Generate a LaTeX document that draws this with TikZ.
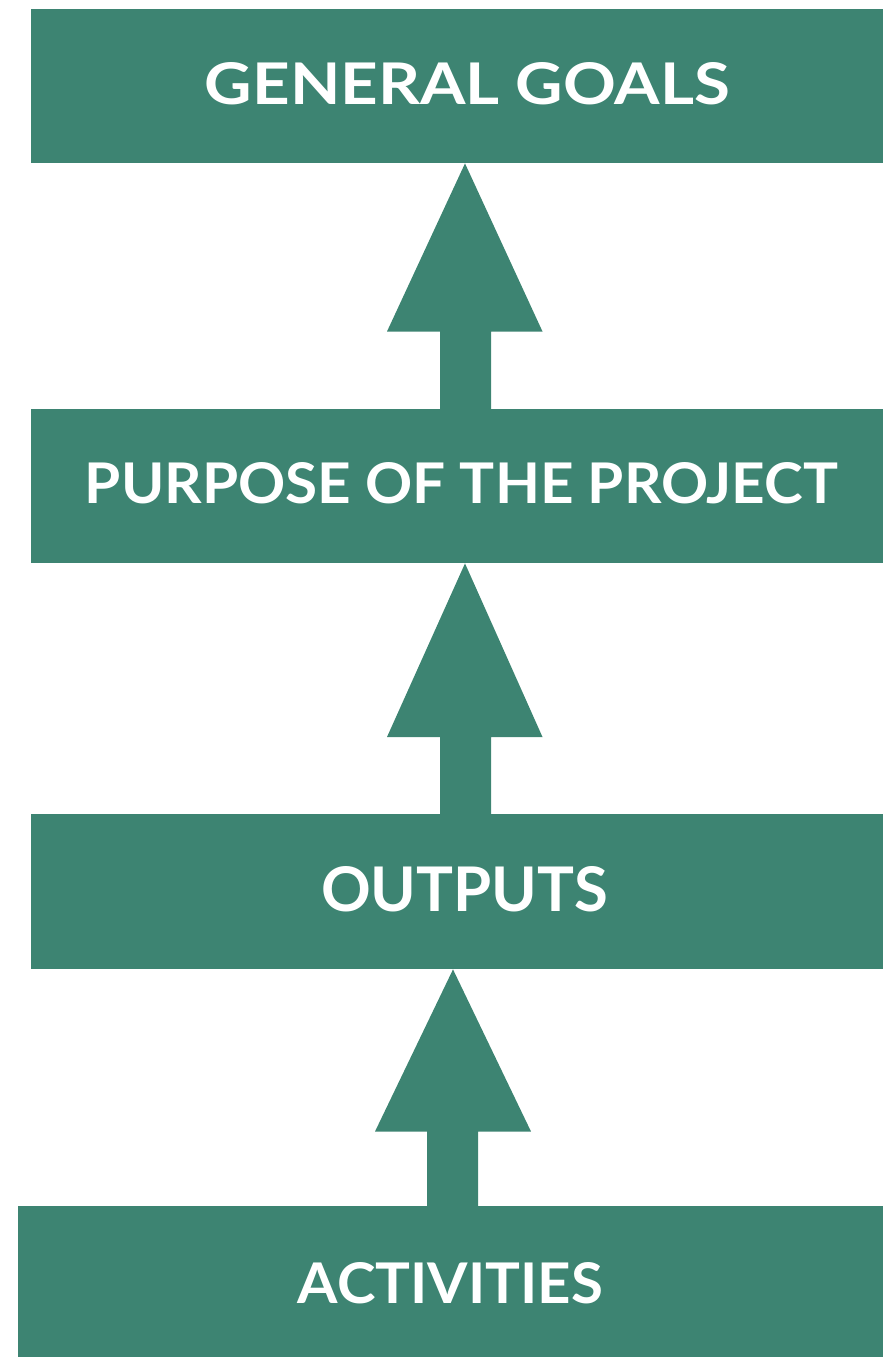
\documentclass[tikz,border=0pt]{standalone}
\usepackage{fontspec}
\setmainfont{Lato}
\usetikzlibrary{calc}
\definecolor{teal1}{RGB}{61,132,114}
\begin{document}
\begin{tikzpicture}[x=1pt,y=-1pt,
  box/.style={fill=teal1,draw=none,inner sep=0pt,anchor=north west},
  lbl/.style={text=white,anchor=base,inner sep=0pt,font=\fontsize{57}{60}\selectfont\bfseries},
  blockarrow/.style={fill=teal1,draw=none}]
\useasboundingbox (0,0) rectangle (883,1357);
\node[box,minimum width=852pt,minimum height=154pt] (goals) at (31,9) {};
\node[box,minimum width=852pt,minimum height=154pt] (purpose) at (31,409) {};
\node[box,minimum width=852pt,minimum height=155pt] (outputs) at (31,814) {};
\node[box,minimum width=865pt,minimum height=151pt] (activities) at (18,1206) {};
\node[lbl] (tgoals) at (467.5,104) {\resizebox{525pt}{42pt}{GENERAL GOALS}};
\node[lbl] (tpurpose) at (461.5,503) {\resizebox{753pt}{41pt}{PURPOSE OF THE PROJECT}};
\node[lbl] (toutputs) at (464.5,911) {\resizebox{287pt}{45pt}{OUTPUTS}};
\node[lbl] (tactivities) at (450.5,1303) {\resizebox{305pt}{41pt}{ACTIVITIES}};
% arrows
\fill[blockarrow] (purpose.north -| 440,0) -- (440,331.5) -- (387,331.5) -- (goals.south -| 465,0) -- (542.5,331.5) -- (491,331.5) -- (purpose.north -| 491,0) -- cycle;
\fill[blockarrow] (outputs.north -| 440,0) -- (440,737) -- (387,737) -- (purpose.south -| 465,0) -- (542.5,737) -- (491,737) -- (outputs.north -| 491,0) -- cycle;
\fill[blockarrow] (activities.north -| 427,0) -- (427,1131.5) -- (375,1131.5) -- (outputs.south -| 453,0) -- (531,1131.5) -- (478,1131.5) -- (activities.north -| 478,0) -- cycle;
\end{tikzpicture}
\end{document}
